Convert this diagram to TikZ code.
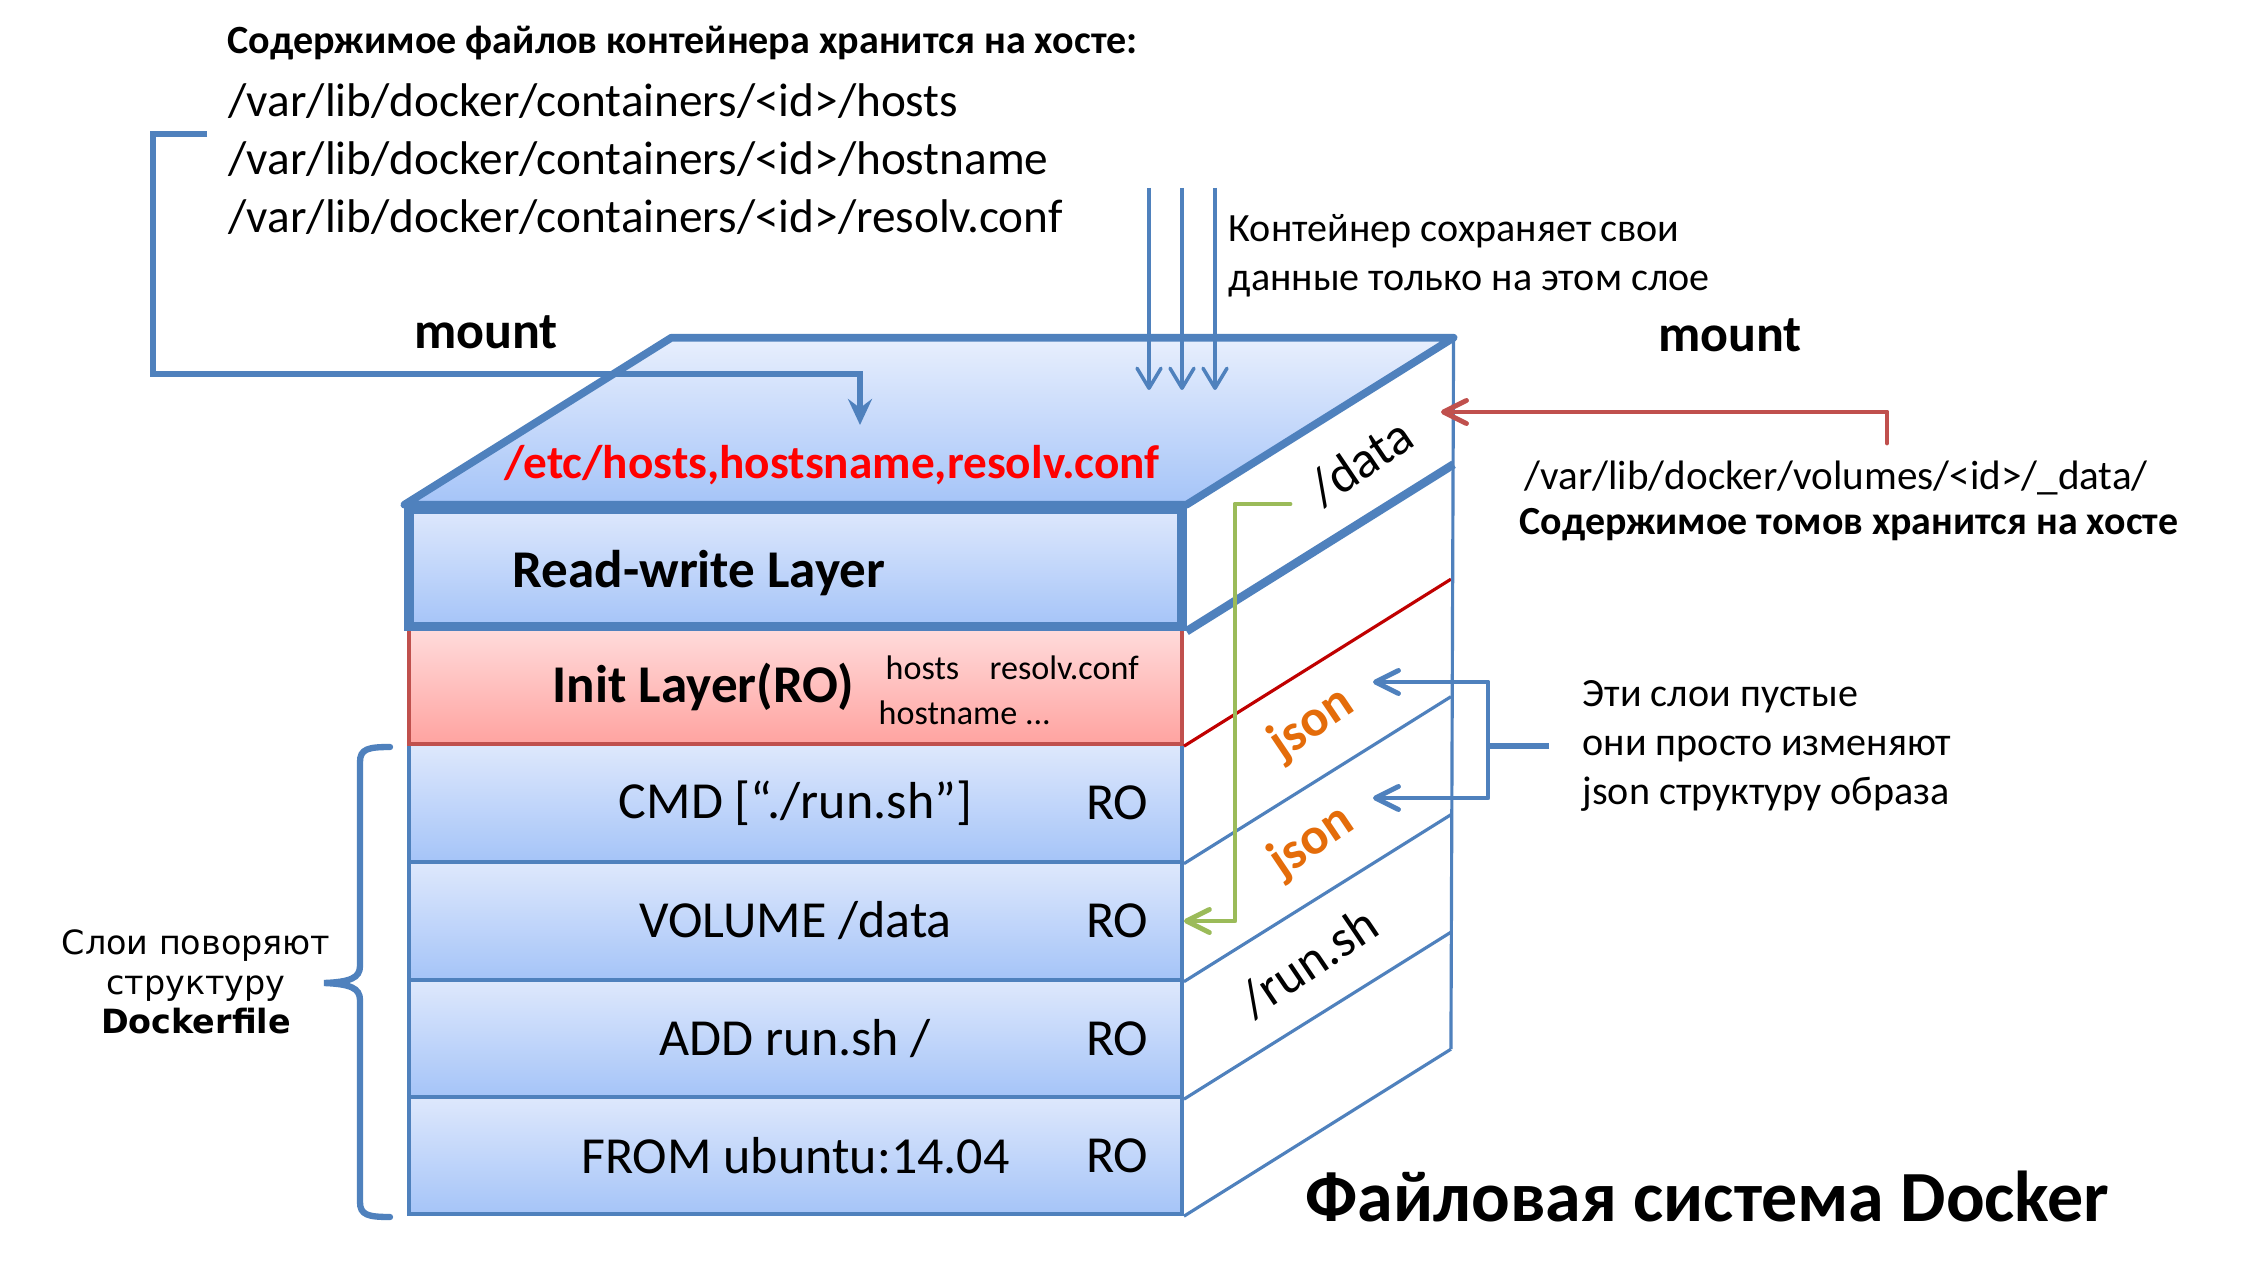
\documentclass[tikz,border=0pt]{standalone}
\usepackage{fontspec}
\setmainfont{Carlito}
\newfontfamily\verd{DejaVu Sans}
\usepackage{tikz}
\usetikzlibrary{calc,positioning,arrows.meta}
\definecolor{dkblue}{HTML}{4F81BD}
\definecolor{dkred}{HTML}{C0504D}
\definecolor{lyrtop}{HTML}{DEE8FC}
\definecolor{lyrbot}{HTML}{A5C4F8}
\definecolor{inittop}{HTML}{FFDCDC}
\definecolor{initbot}{HTML}{FFA3A0}
\definecolor{grn}{HTML}{9BBB59}
\definecolor{jsonor}{HTML}{E46C0A}
\definecolor{redtxt}{HTML}{FF0000}
\definecolor{redline}{HTML}{C00000}
\newcommand{\PathTxt}{\fontsize{13.45}{16.5}\selectfont}
\newcommand{\LyrTxt}{\fontsize{14.8}{17}\selectfont}
\newcommand{\HeadTxt}{\fontsize{15.1}{17}\selectfont}
\newcommand{\NoteTxt}{\fontsize{11.4}{14}\selectfont}
\newcommand{\SmallTxt}{\fontsize{9.7}{11}\selectfont}
\newcommand{\TitleTxt}{\fontsize{20.5}{24}\selectfont}

\begin{document}
\begin{tikzpicture}[x=0.1mm,y=-0.1mm,
    layer/.style={draw=dkblue, line width=1.1pt, top color=lyrtop, bottom color=lyrbot,
                  minimum width=77.3mm, minimum height=11.75mm, inner sep=0pt},
    txt/.style={inner sep=0pt, anchor=west},
    side/.style={draw=dkblue, line width=0.9pt},
    barb/.style={-{Straight Barb[length=2.3mm,width=2.3mm,round]}, line width=1.4pt,
                 line cap=round, line join=round},
    slant/.style={rotate=34, inner sep=0pt, font=\LyrTxt}]

  \fill[white] (0,0) rectangle (2266,1272);
  \useasboundingbox (0,0) rectangle (2266,1272);

  % image layers, bottom up
  \foreach \nm/\yy/\txt in {from/1155.5/{FROM ubuntu:14.04}, add/1038.5/{ADD run.sh /},
                            vol/921/{VOLUME /data}, cmd/803/{CMD [“./run.sh”]}}{
    \node[layer] (\nm) at (795.5,\yy) {};
    \node[font=\LyrTxt, inner sep=0pt] (\nm-lbl) at (\nm) {\txt};
    \node[font=\LyrTxt, inner sep=0pt, left=3.5mm of \nm.east] (\nm-ro) {RO};
  }
  \node[layer, draw=dkred, top color=inittop, bottom color=initbot] (init) at (795.5,685.5) {};
  \node[layer, line width=2.6pt] (rw) at (795.5,568) {};
  \node[txt, font=\HeadTxt\bfseries] (rwtxt) at (512,573) {Read-write Layer};
  \node[txt, font=\HeadTxt\bfseries] (inittxt) at (552,687) {Init Layer(RO)};
  \node[txt, font=\SmallTxt] (ihosts) at (885,668) {hosts};
  \node[txt, font=\SmallTxt] (iresolv) at (989,668) {resolv.conf};
  \node[txt, font=\SmallTxt] (ihostname) at (878,713) {hostname ...};

  % top face
  \draw[dkblue, line width=2.2pt, line join=round, top color=lyrtop!70!white, bottom color=lyrbot]
    (rw.north west) -- (rw.north east) -- ++(267,-167) coordinate (bkr)
    -- ($(rw.north west)+(267,-167)$) coordinate (bkl) -- cycle;
  \node[font=\PathTxt\bfseries, text=redtxt, inner sep=0pt] (etc) at (832,465)
    {/etc/hosts,hostsname,resolv.conf};

  % side face
  \draw[dkblue, line width=2.4pt] (rw.south east) -- ++(267,-167);
  \draw[redline, line width=0.9pt] (init.south east) -- ++(267,-167);
  \foreach \nm in {cmd,vol,add,from}
    \draw[side] (\nm.south east) -- ++(267,-167);
  \draw[side] (bkr) -- ($(from.south east)+(267,-167)$);
  \node[slant] (datalbl) at (1361,462) {/data};
  \node[slant, font=\LyrTxt\bfseries, text=jsonor] (json1) at (1312,724) {json};
  \node[slant, font=\LyrTxt\bfseries, text=jsonor] (json2) at (1312,842) {json};
  \node[slant] (runlbl) at (1309,962) {/run.sh};

  % texts
  \node[txt, font=\NoteTxt\bfseries] (hdr) at (227,43)
    {Содержимое файлов контейнера хранится на хосте:};
  \node[txt, font=\PathTxt, align=left] (paths) at (228,159)
    {/var/lib/docker/containers/<id>/hosts\\/var/lib/docker/containers/<id>/hostname\\/var/lib/docker/containers/<id>/resolv.conf};
  \node[font=\LyrTxt\bfseries] (mountl) at (486,332) {mount};
  \node[font=\LyrTxt\bfseries] (mountr) at (1730,335) {mount};
  \node[txt, font=\NoteTxt, align=left] (keepnote) at (1228,256)
    {Контейнер сохраняет свои\\данные только на этом слое};
  \node[txt, font=\fontsize{11.7}{14}\selectfont] (volpath) at (1524,478)
    {/var/lib/docker/volumes/<id>/\_data/};
  \node[txt, font=\fontsize{11.35}{14}\selectfont\bfseries] (volnote) at (1519,525)
    {Содержимое томов хранится на хосте};
  \node[txt, font=\NoteTxt, align=left] (emptynote) at (1582,746)
    {Эти слои пустые\\они просто изменяют\\json структуру образа};
  \node[txt, font=\TitleTxt\bfseries] (title) at (1305,1196) {Файловая система Docker};
  \node[font=\verd\fontsize{9.5}{11.2}\selectfont, align=center] (bracetxt) at (196,982)
    {Слои поворяют\\структуру\\\textbf{Dockerfile}};

  % connectors
  \coordinate (brstart) at (207,134);
  \coordinate (etctip) at (860,425);
  \draw[dkblue, line width=1.5pt, -{Stealth[length=2.6mm,width=2.4mm,inset=0.9mm]}]
    (brstart) -- ++(-54,0) -- ++(0,240) -| (etctip);
  \foreach \xx in {1149,1182,1215}{
    \coordinate (wr\xx) at (\xx,188);
    \draw[dkblue, line width=1pt, -{Straight Barb[length=2mm,width=2.4mm,round]}] (wr\xx) -- ++(0,202);
  }
  \coordinate (redstart) at (1887,443);
  \coordinate (redtip) at (1441,412);
  \draw[barb, dkred] (redstart) |- (redtip);
  \coordinate (grnstart) at (1290,504);
  \draw[barb, grn] (grnstart) -- ++(-55,0) |- (vol.east);
  \coordinate (emptystart) at (1549,746);
  \coordinate (j1tip) at (1373,682);
  \coordinate (j2tip) at (1373,798);
  \draw[dkblue, line width=1.6pt] (emptystart) -- ++(-61,0) coordinate (ebk);
  \draw[barb, dkblue] (ebk) |- (j1tip);
  \draw[barb, dkblue] (ebk) |- (j2tip);
  \draw[dkblue, line width=1.8pt, line cap=round]
    (390,747) .. controls (368,747) and (360,749) .. (360,762) -- (360,966)
    .. controls (360,978) and (350,982) .. (324,983)
    .. controls (350,984) and (360,988) .. (360,1000) -- (360,1202)
    .. controls (360,1215) and (368,1217) .. (390,1217);
\end{tikzpicture}
\end{document}
